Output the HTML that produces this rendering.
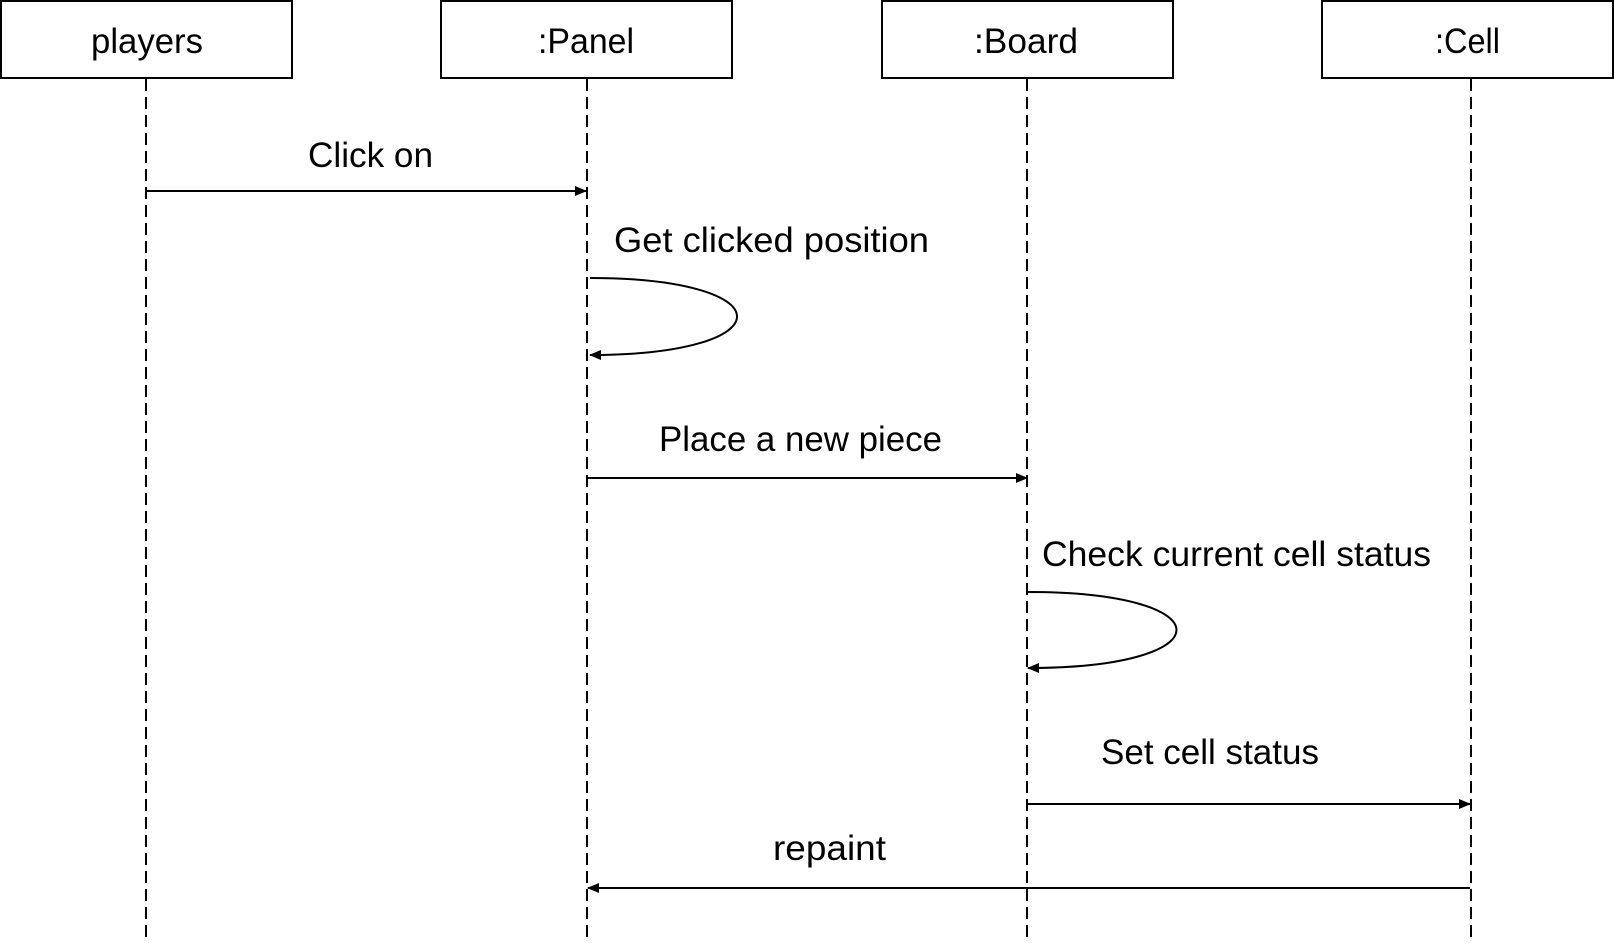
<!DOCTYPE html>
<html><head><meta charset="utf-8"><style>html,body{margin:0;padding:0;background:#fff}svg{display:block}</style></head>
<body>
<svg width="1614" height="943" viewBox="0 0 1614 943" xmlns="http://www.w3.org/2000/svg">
<defs>
<marker id="a" markerWidth="12" markerHeight="10" refX="11" refY="5" orient="auto" markerUnits="userSpaceOnUse">
<path d="M0,0 L12,5 L0,10 z" fill="#000"/></marker>
</defs>
<g fill="#fff" stroke="#000" stroke-width="2">
<rect x="1" y="1" width="291" height="77"/>
<rect x="441" y="1" width="291" height="77"/>
<rect x="882" y="1" width="291" height="77"/>
<rect x="1322" y="1" width="291" height="77"/>
</g>
<g stroke="#000" stroke-width="2" stroke-dasharray="12,6">
<line x1="146" y1="79" x2="146" y2="943"/>
<line x1="587" y1="79" x2="587" y2="943"/>
<line x1="1027" y1="79" x2="1027" y2="943"/>
<line x1="1471" y1="79" x2="1471" y2="943"/>
</g>
<g stroke="#000" stroke-width="2" fill="none">
<line x1="147" y1="191" x2="586" y2="191" marker-end="url(#a)"/>
<path d="M590,278 C786,278 786,355 590,355" marker-end="url(#a)"/>
<line x1="588" y1="478" x2="1027" y2="478" marker-end="url(#a)"/>
<path d="M1028,592 C1226,592 1226,668 1028,668" marker-end="url(#a)"/>
<line x1="1028" y1="804" x2="1470" y2="804" marker-end="url(#a)"/>
<line x1="1470" y1="888" x2="588" y2="888" marker-end="url(#a)"/>
</g>
<g font-family="Liberation Sans, sans-serif" font-size="35" fill="#000">
<text x="91" y="53" textLength="112" lengthAdjust="spacingAndGlyphs">players</text>
<text x="538" y="53" textLength="96" lengthAdjust="spacingAndGlyphs">:Panel</text>
<text x="974" y="53" textLength="104" lengthAdjust="spacingAndGlyphs">:Board</text>
<text x="1435" y="53" textLength="65" lengthAdjust="spacingAndGlyphs">:Cell</text>
<text x="308" y="167" textLength="125" lengthAdjust="spacingAndGlyphs">Click on</text>
<text x="614" y="252" textLength="315" lengthAdjust="spacingAndGlyphs">Get clicked position</text>
<text x="659" y="451" textLength="283" lengthAdjust="spacingAndGlyphs">Place a new piece</text>
<text x="1042" y="566" textLength="389" lengthAdjust="spacingAndGlyphs">Check current cell status</text>
<text x="1101" y="764" textLength="218" lengthAdjust="spacingAndGlyphs">Set cell status</text>
<text x="773" y="860" textLength="113" lengthAdjust="spacingAndGlyphs">repaint</text>
</g>
</svg>
</body></html>
